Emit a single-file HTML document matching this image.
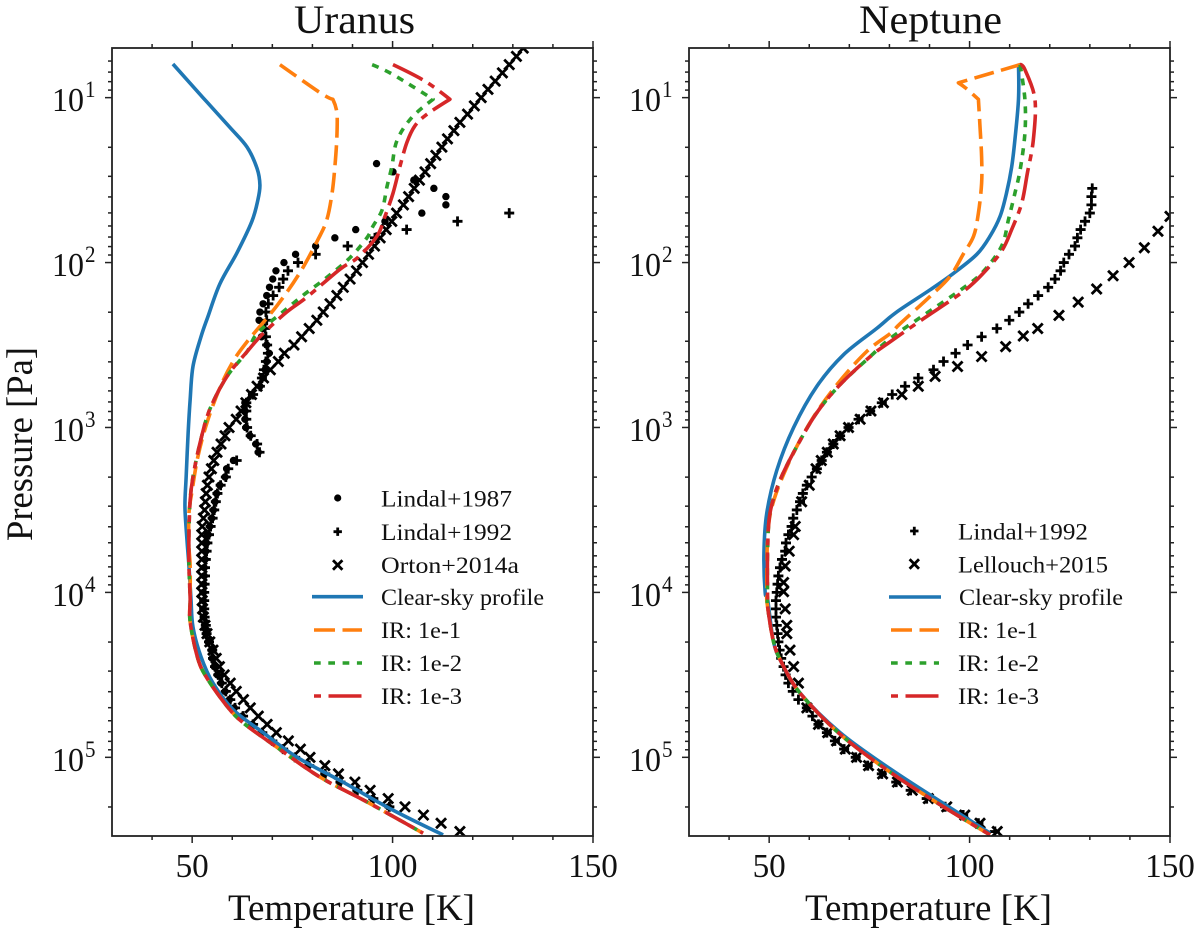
<!DOCTYPE html>
<html lang="en">
<head>
<meta charset="utf-8">
<title>Uranus and Neptune temperature profiles</title>
<style>
html,body{margin:0;padding:0;background:#fff;}
svg{display:block;filter:blur(0.35px);}
text{font-family:"Liberation Serif",serif;fill:#111;}
</style>
</head>
<body>
<svg id="figure" xmlns="http://www.w3.org/2000/svg" width="1200" height="934" viewBox="0 0 1200 934">
  <defs>
    <clipPath id="clip-uranus"><rect x="112" y="48" width="481" height="788"/></clipPath>
    <clipPath id="clip-neptune"><rect x="689" y="48" width="481" height="788"/></clipPath>
  </defs>
  <rect x="0" y="0" width="1200" height="934" fill="#fff"/>

  <text x="294" y="33" font-size="40" textLength="121" lengthAdjust="spacingAndGlyphs">Uranus</text>
  <text x="859" y="33" font-size="40" textLength="143" lengthAdjust="spacingAndGlyphs">Neptune</text>

  <g id="uranus-panel"></g>
  <g id="neptune-panel"></g>

  <text x="228" y="920" font-size="37" textLength="247" lengthAdjust="spacingAndGlyphs">Temperature [K]</text>
  <text x="805" y="920" font-size="37" textLength="247" lengthAdjust="spacingAndGlyphs">Temperature [K]</text>
  <text transform="translate(32,541) rotate(-90)" x="0" y="0" font-size="37" textLength="194" lengthAdjust="spacingAndGlyphs">Pressure [Pa]</text>

  <g>
    <circle cx="337.7" cy="498" r="3.6" fill="#000"/>
    <path d="M333.5 531.7H341.9M337.7 527.5V535.9" stroke="#000" stroke-width="2.8" fill="none"/>
    <path d="M333 560.3L342.4 569.7M342.4 560.3L333 569.7" stroke="#000" stroke-width="2.8" fill="none"/>
    <line x1="312" x2="363" y1="596.7" y2="596.7" stroke="#1f77b4" stroke-width="3.6"/>
    <line x1="314" x2="362" y1="630" y2="630" stroke="#ff7f0e" stroke-width="3.6" stroke-dasharray="21 7.5"/>
    <line x1="314" x2="362" y1="663" y2="663" stroke="#2ca02c" stroke-width="3.6" stroke-dasharray="6.7 7.6"/>
    <line x1="314" x2="362" y1="696" y2="696" stroke="#d62728" stroke-width="3.6" stroke-dasharray="7 7.5 33 7"/>
    <text x="381" y="506.5" font-size="23.5" textLength="131" lengthAdjust="spacingAndGlyphs">Lindal+1987</text>
    <text x="381" y="540" font-size="23.5" textLength="131" lengthAdjust="spacingAndGlyphs">Lindal+1992</text>
    <text x="381" y="573" font-size="23.5" textLength="138" lengthAdjust="spacingAndGlyphs">Orton+2014a</text>
    <text x="381" y="605" font-size="23.5" textLength="163" lengthAdjust="spacingAndGlyphs">Clear-sky profile</text>
    <text x="381" y="638" font-size="23.5" textLength="80" lengthAdjust="spacingAndGlyphs">IR: 1e-1</text>
    <text x="381" y="671" font-size="23.5" textLength="81" lengthAdjust="spacingAndGlyphs">IR: 1e-2</text>
    <text x="381" y="704" font-size="23.5" textLength="81" lengthAdjust="spacingAndGlyphs">IR: 1e-3</text>
  </g>

  <g>
    <path d="M910.1 531H918.5M914.3 526.8V535.2" stroke="#000" stroke-width="2.8" fill="none"/>
    <path d="M909.6 559.3L919 568.7M919 559.3L909.6 568.7" stroke="#000" stroke-width="2.8" fill="none"/>
    <line x1="889" x2="941" y1="597" y2="597" stroke="#1f77b4" stroke-width="3.6"/>
    <line x1="891" x2="939" y1="630" y2="630" stroke="#ff7f0e" stroke-width="3.6" stroke-dasharray="21 7.5"/>
    <line x1="891" x2="939" y1="663" y2="663" stroke="#2ca02c" stroke-width="3.6" stroke-dasharray="6.7 7.6"/>
    <line x1="891" x2="939" y1="696" y2="696" stroke="#d62728" stroke-width="3.6" stroke-dasharray="7 7.5 33 7"/>
    <text x="958" y="539.5" font-size="23.5" textLength="130" lengthAdjust="spacingAndGlyphs">Lindal+1992</text>
    <text x="958" y="572.5" font-size="23.5" textLength="150" lengthAdjust="spacingAndGlyphs">Lellouch+2015</text>
    <text x="959" y="605" font-size="23.5" textLength="164" lengthAdjust="spacingAndGlyphs">Clear-sky profile</text>
    <text x="958" y="638" font-size="23.5" textLength="80" lengthAdjust="spacingAndGlyphs">IR: 1e-1</text>
    <text x="958" y="671" font-size="23.5" textLength="81" lengthAdjust="spacingAndGlyphs">IR: 1e-2</text>
    <text x="958" y="704" font-size="23.5" textLength="81" lengthAdjust="spacingAndGlyphs">IR: 1e-3</text>
  </g>
</svg>

<script>
// Axis values
const xMajorTicks = [50, 100, 150];
const xMinorTicks = [40, 60, 70, 80, 90, 110, 120, 130, 140];
const yDecades = [1, 2, 3, 4, 5];
const yMinorMultipliers = [2, 3, 4, 5, 6, 7, 8, 9];
const temperatureLimits = [30, 150];
const logPressureLimits = [0.699, 5.477];

// Shared measurement pressure grid, log10(P / Pa)
const logPGrid = [0.70,0.75,0.80,0.85,0.90,0.95,1.00,1.05,1.10,1.15,
  1.20,1.25,1.30,1.35,1.40,1.45,1.50,1.55,1.60,1.65,
  1.70,1.75,1.80,1.85,1.90,1.95,2.00,2.05,2.10,2.15,
  2.20,2.25,2.30,2.35,2.40,2.45,2.50,2.55,2.60,2.65,
  2.70,2.75,2.80,2.85,2.90,2.95,3.00,3.05,3.10,3.15,
  3.20,3.25,3.30,3.35,3.40,3.45,3.50,3.55,3.60,3.65,
  3.70,3.75,3.80,3.85,3.90,3.95,4.00,4.05,4.10,4.15,
  4.20,4.25,4.30,4.35,4.40,4.45,4.50,4.55,4.60,4.65,
  4.70,4.75,4.80,4.85,4.90,4.95,5.00,5.05,5.10,5.15,
  5.20,5.25,5.30,5.35,5.40,5.45];

// Uranus observations
const uranusLindal87LogP = logPGrid.slice(14);
const uranusLindal87T = [96.0,100.1,105.3,110.3,113.3,113.3,107.3,98.1,90.8,85.6,
  80.8,75.8,72.9,70.9,70.1,69.3,68.6,67.7,66.9,66.7,
  67.6,67.3,68.6,69.2,68.6,68.2,67.6,66.9,64.8,63.2,
  63.2,63.2,63.4,64.4,65.9,66.5,60.3,58.6,58.2,56.9,
  56.1,55.7,55.3,54.9,54.4,54.0,53.6,53.4,53.2,53.0,
  53.0,52.9,52.8,52.8,52.8,52.9,53.2,53.4,54.0,54.8,
  55.0,55.5,56.3,57.2,58.2,59.3,60.5,62.5,65.0,67.3,
  69.8,72.5,75.5,79.0,83.0,86.8,91.0,95.0,99.0];
const uranusLindal92LogP = logPGrid.slice(20);
const uranusLindal92T = [129.1,116.2,103.5,95.6,88.8,80.8,76.4,73.9,72.7,71.7,
  70.2,69.0,68.4,68.6,68.2,68.4,68.7,68.9,68.4,67.9,
  67.4,66.9,65.2,63.5,63.5,63.5,63.7,64.6,66.2,66.8,
  61.1,59.0,58.4,57.1,56.3,55.9,55.5,55.1,54.6,54.2,
  53.8,53.6,53.4,53.2,53.2,53.1,53.0,53.0,53.0,53.1,
  53.4,53.6,54.2,55.0,55.2,55.7,56.5,57.4,58.4,59.5,
  60.7,62.7,65.2,67.5,70.0,72.7,75.7,79.2,83.2,87.0,
  91.2,95.2,99.2];
const uranusOrtonLogP = logPGrid.slice(0);
const uranusOrtonT = [132.6,130.9,129.1,127.4,125.6,123.8,122.1,120.4,118.7,116.8,
  115.3,113.7,112.3,110.8,109.5,108.1,106.7,105.4,104.0,102.7,
  101.0,99.8,98.4,96.9,95.5,94.0,92.5,91.0,89.4,87.7,
  86.1,84.4,82.7,81.1,79.2,77.3,75.4,73.0,71.5,69.5,
  67.8,66.2,64.8,63.4,62.2,61.0,59.2,58.2,57.2,56.2,
  55.4,54.8,54.2,53.8,53.5,53.3,53.1,52.8,52.5,52.4,
  52.4,52.4,52.4,52.4,52.4,52.4,52.4,52.5,52.6,52.8,
  53.2,53.7,54.4,55.2,56.0,56.8,58.0,59.5,61.0,62.8,
  64.5,66.5,68.7,71.0,74.0,77.0,79.4,83.1,86.5,90.6,
  94.4,98.9,103.1,107.7,112.1,116.8];

// Uranus model profiles
const uranusClearT = [45.2,52.7,59.4,63.7,66.2,66.9,66.4,64.9,61.2,56.9,53.9,52.2,50.2,49.5,49.0,48.5,48.2,48.7,49.2,49.7,50.2,52.2,55.2,60.2,67.7,76.2,87.6,100.1,112.6];
const uranusClearLogP = [0.796,1.00,1.18,1.30,1.43,1.53,1.62,1.75,1.94,2.13,2.33,2.45,2.63,2.83,3.03,3.30,3.48,3.68,3.84,4.04,4.21,4.39,4.55,4.71,4.85,5.00,5.15,5.32,5.47];
const uranusIr1T = [71.9,81.9,85.1,86.1,86.1,85.6,84.9,83.6,81.4,76.9,71.2,63.7,60.2,56.9,53.7,51.4,50.0,49.2,49.2,49.5,49.5,49.5,51.4,53.7,58.7,62.7,71.2,81.9,93.6,107.6];
const uranusIr1LogP = [0.80,0.97,1.01,1.09,1.24,1.42,1.58,1.74,1.86,2.06,2.26,2.48,2.60,2.76,2.97,3.18,3.38,3.52,3.72,3.84,4.04,4.18,4.40,4.52,4.69,4.79,4.94,5.12,5.27,5.46];
const uranusIr2T = [94.9,100.1,110.1,104.8,101.1,99.8,98.6,97.4,95.1,93.6,89.4,83.6,77.6,72.6,66.2,63.7,58.7,54.4,52.0,50.2,49.5,49.2,49.2,49.5,49.5,51.4,53.7,58.7,62.7,71.2,81.9,93.6,107.6];
const uranusIr2LogP = [0.80,0.86,1.01,1.12,1.26,1.42,1.54,1.68,1.78,1.85,1.97,2.09,2.20,2.30,2.43,2.54,2.69,2.89,3.09,3.30,3.44,3.64,3.84,4.04,4.18,4.40,4.52,4.69,4.79,4.94,5.12,5.27,5.46];
const uranusIr3T = [100.1,108.1,114.3,108.6,105.6,103.6,101.8,100.1,98.1,96.1,91.3,86.9,78.6,73.6,67.7,63.7,58.7,54.4,52.0,50.2,49.5,49.2,49.2,49.5,49.5,51.4,53.7,58.7,62.7,71.2,81.9,93.6,107.6];
const uranusIr3LogP = [0.80,0.90,1.01,1.10,1.17,1.27,1.42,1.58,1.72,1.84,1.97,2.04,2.21,2.30,2.43,2.54,2.69,2.89,3.09,3.30,3.44,3.64,3.84,4.04,4.18,4.40,4.52,4.69,4.79,4.94,5.12,5.27,5.46];

// Neptune observations
const neptuneLindal92LogP = logPGrid.slice(17);
const neptuneLindal92T = [130.6,130.4,130.4,130.0,128.8,127.7,126.9,126.3,124.8,123.5,
  122.7,121.3,119.6,117.1,114.6,112.4,109.9,106.8,103.0,99.5,
  96.5,93.5,91.0,87.2,83.9,80.7,78.1,75.2,72.3,69.8,
  67.7,66.0,64.4,63.1,61.9,60.6,59.4,58.4,57.7,56.9,
  56.0,55.6,54.8,54.2,54.0,53.2,52.7,52.3,52.1,51.9,
  51.7,51.7,51.7,51.9,52.1,52.3,52.6,53.0,53.6,54.1,
  54.8,55.9,57.3,59.4,60.8,62.3,64.4,66.4,68.7,71.6,
  74.6,78.1,81.7,85.3,89.3,93.9,98.4,102.2,106.3];
const neptuneLellouchT = [150,147,143.6,139.8,135.8,131.7,127.1,122.3,117,113.4,
  109,103,97,91.4,87.2,83.1,78.5,75.4,72.7,69.8,
  67.7,66,64.5,63,61.7,60,58.1,56.5,56.1,55,
  54,53.6,53.6,54,54.4,54.4,55.2,56.1,57.3,59.4,
  62.3,64.6,66.8,69,71.8,74.8,78.3,82,85.7,89.7,
  94.3,98.8,102.6,106.9];
const neptuneLellouchLogP = [1.72,1.81,1.91,2.0,2.08,2.16,2.24,2.32,2.40,2.445,
  2.51,2.57,2.63,2.69,2.75,2.80,2.85,2.90,2.95,3.0,
  3.05,3.10,3.15,3.2,3.25,3.35,3.45,3.6,3.65,3.75,
  3.84,3.94,3.995,4.10,4.20,4.25,4.35,4.45,4.55,4.70,
  4.80,4.85,4.90,4.95,5.0,5.05,5.10,5.15,5.20,5.25,
  5.30,5.35,5.40,5.45];

// Neptune model profiles
const neptuneClearT = [112.2,112.2,111.3,110.5,109.2,107.6,105.1,101.8,96.0,90.1,81.8,76.8,68.5,61.9,56.1,51.9,49.4,48.7,49.0,49.6,51.1,53.2,57.7,67.7,80.2,93.5,105.1];
const neptuneClearLogP = [0.80,1.01,1.257,1.42,1.58,1.72,1.84,1.95,2.065,2.166,2.30,2.40,2.56,2.75,3.0,3.26,3.52,3.76,4.0,4.04,4.30,4.43,4.61,4.85,5.07,5.28,5.46];
const neptuneIr1T = [112.6,97.2,99.1,102.2,102.6,103.0,103.0,102.2,101.0,98.4,95.1,90.1,82.7,80.2,74.3,66.9,60.2,54.4,50.7,49.6,49.4,49.6,51.1,53.2,57.7,67.7,80.2,93.5,105.1];
const neptuneIr1LogP = [0.80,0.91,0.943,1.01,1.176,1.36,1.52,1.70,1.84,1.95,2.085,2.206,2.37,2.43,2.54,2.74,2.97,3.24,3.48,3.68,4.0,4.085,4.30,4.43,4.61,4.86,5.09,5.30,5.47];
const neptuneIr2T = [112.6,113.8,113.8,112.6,111.3,109.7,108.0,103.4,98.4,88.5,80.2,75.2,67.7,61.9,56.9,52.7,50.2,49.6,49.6,49.6,51.1,53.2,57.7,67.7,80.2,93.5,105.1];
const neptuneIr2LogP = [0.80,1.01,1.216,1.44,1.58,1.74,1.90,2.055,2.155,2.32,2.46,2.57,2.74,2.91,3.115,3.32,3.52,3.76,4.02,4.085,4.30,4.43,4.61,4.86,5.09,5.30,5.47];
const neptuneIr3T = [112.6,113.8,116.3,115.9,114.4,113.0,110.5,108.0,103.4,98.4,88.5,80.2,75.2,67.7,61.9,56.9,52.7,50.2,49.6,49.6,49.6,51.1,53.2,57.7,67.7,80.2,93.5,105.1];
const neptuneIr3LogP = [0.80,0.83,1.01,1.257,1.46,1.64,1.80,1.93,2.065,2.176,2.34,2.48,2.57,2.74,2.91,3.115,3.32,3.52,3.76,4.02,4.085,4.30,4.43,4.61,4.86,5.09,5.30,5.47];

const SVG_NS = 'http://www.w3.org/2000/svg';

function makeScales(x0, x1, y0, y1) {
  return {
    x0: x0, x1: x1, y0: y0, y1: y1,
    sx: function (t) { return x0 + (t - temperatureLimits[0]) / (temperatureLimits[1] - temperatureLimits[0]) * (x1 - x0); },
    sy: function (lp) { return y0 + (lp - logPressureLimits[0]) / (logPressureLimits[1] - logPressureLimits[0]) * (y1 - y0); }
  };
}

function addTick(parent, x1, y1, x2, y2, name) {
  const el = document.createElementNS(SVG_NS, 'line');
  el.setAttribute('x1', x1);
  el.setAttribute('y1', y1);
  el.setAttribute('x2', x2);
  el.setAttribute('y2', y2);
  el.setAttribute('stroke', '#222');
  el.setAttribute('stroke-width', '1.5');
  
  
  parent.appendChild(el);
}

function addLabel(parent, x, y, size, length, anchor, str, name) {
  const el = document.createElementNS(SVG_NS, 'text');
  el.setAttribute('x', x);
  el.setAttribute('y', y);
  el.setAttribute('font-size', size);
  if (anchor === 'middle') {
    el.setAttribute('text-anchor', 'middle');
  }
  el.setAttribute('textLength', length);
  el.setAttribute('lengthAdjust', 'spacingAndGlyphs');
  el.textContent = str;
  
  
  parent.appendChild(el);
}

function drawAxes(parent, s, panel) {
  const g = document.createElementNS(SVG_NS, 'g');
  
  
  parent.appendChild(g);

  xMajorTicks.forEach(function (t) {
    addTick(g, s.sx(t), s.y1, s.sx(t), s.y1 + 7, 'x-major-tick-bottom');
    addTick(g, s.sx(t), s.y0, s.sx(t), s.y0 - 7, 'x-major-tick-top');
    addLabel(g, s.sx(t), 877, 34, String(t).length * 16.6, 'middle', String(t), 'x-tick-label');
  });
  xMinorTicks.forEach(function (t) {
    addTick(g, s.sx(t), s.y1, s.sx(t), s.y1 + 4, 'x-minor-tick-bottom');
    addTick(g, s.sx(t), s.y0, s.sx(t), s.y0 - 4, 'x-minor-tick-top');
  });
  yDecades.forEach(function (d) {
    const y = s.sy(d);
    addTick(g, s.x0, y, s.x0 - 7, y, 'y-major-tick-left');
    addTick(g, s.x1, y, s.x1 + 7, y, 'y-major-tick-right');
    addLabel(g, s.x0 - 60, y + 13.5, 34, 32, 'start', '10', 'y-tick-label-base');
    addLabel(g, s.x0 - 27, y - 0.5, 23, 10.5, 'start', String(d), 'y-tick-label-exponent');
  });
  const minorDecades = [0].concat(yDecades);
  minorDecades.forEach(function (d) {
    yMinorMultipliers.forEach(function (m) {
      const lp = d + Math.log10(m);
      if (lp > logPressureLimits[0] && lp < logPressureLimits[1]) {
        addTick(g, s.x0, s.sy(lp), s.x0 - 4, s.sy(lp), 'y-minor-tick-left');
        addTick(g, s.x1, s.sy(lp), s.x1 + 4, s.sy(lp), 'y-minor-tick-right');
      }
    });
  });
  const frame = document.createElementNS(SVG_NS, 'rect');
  frame.setAttribute('x', s.x0);
  frame.setAttribute('y', s.y0);
  frame.setAttribute('width', s.x1 - s.x0);
  frame.setAttribute('height', s.y1 - s.y0);
  frame.setAttribute('fill', 'none');
  frame.setAttribute('stroke', '#222');
  frame.setAttribute('stroke-width', '1.8');
  
  
  g.appendChild(frame);
}

function drawPoints(parent, s, ts, lps, kind, name) {
  const n = Math.min(ts.length, lps.length);
  for (let i = 0; i < n; i++) {
    const x = s.sx(ts[i]);
    const y = s.sy(lps[i]);
    let el;
    if (kind === 'dot') {
      el = document.createElementNS(SVG_NS, 'circle');
      el.setAttribute('cx', x);
      el.setAttribute('cy', y);
      el.setAttribute('r', '3.7');
      el.setAttribute('fill', '#000');
    } else {
      el = document.createElementNS(SVG_NS, 'path');
      const r = kind === 'plus' ? 5 : 5;
      const d = kind === 'plus'
        ? 'M' + (x - r) + ' ' + y + 'H' + (x + r) + 'M' + x + ' ' + (y - r) + 'V' + (y + r)
        : 'M' + (x - r) + ' ' + (y - r) + 'L' + (x + r) + ' ' + (y + r) + 'M' + (x + r) + ' ' + (y - r) + 'L' + (x - r) + ' ' + (y + r);
      el.setAttribute('d', d);
      el.setAttribute('stroke', '#000');
      el.setAttribute('stroke-width', '2.8');
      el.setAttribute('fill', 'none');
    }
    
    
    parent.appendChild(el);
  }
}

// Smooth curve through the data points, keeping sharp corners where the profile really kinks.
function smoothPath(pts) {
  const tangents = pts.map(function (p, i) {
    if (i === 0 || i === pts.length - 1) { return [0, 0]; }
    const a = pts[i - 1];
    const b = pts[i + 1];
    const a1 = Math.atan2(p[1] - a[1], p[0] - a[0]);
    const a2 = Math.atan2(b[1] - p[1], b[0] - p[0]);
    let turn = Math.abs(a1 - a2);
    if (turn > Math.PI) { turn = 2 * Math.PI - turn; }
    if (turn > 0.6) { return [0, 0]; }
    return [(b[0] - a[0]) / 6, (b[1] - a[1]) / 6];
  });
  let d = 'M' + pts[0][0].toFixed(2) + ' ' + pts[0][1].toFixed(2);
  for (let i = 0; i < pts.length - 1; i++) {
    const c1x = pts[i][0] + tangents[i][0];
    const c1y = pts[i][1] + tangents[i][1];
    const c2x = pts[i + 1][0] - tangents[i + 1][0];
    const c2y = pts[i + 1][1] - tangents[i + 1][1];
    d += 'C' + c1x.toFixed(2) + ' ' + c1y.toFixed(2) + ' ' + c2x.toFixed(2) + ' ' + c2y.toFixed(2) + ' ' + pts[i + 1][0].toFixed(2) + ' ' + pts[i + 1][1].toFixed(2);
  }
  return d;
}

function drawLine(parent, s, ts, lps, color, dash, name) {
  const n = Math.min(ts.length, lps.length);
  const pts = [];
  for (let i = 0; i < n; i++) {
    pts.push([s.sx(ts[i]), s.sy(lps[i])]);
  }
  const el = document.createElementNS(SVG_NS, 'path');
  el.setAttribute('d', smoothPath(pts));
  el.setAttribute('fill', 'none');
  el.setAttribute('stroke', color);
  el.setAttribute('stroke-width', '3.6');
  el.setAttribute('stroke-linejoin', 'round');
  if (dash) {
    el.setAttribute('stroke-dasharray', dash);
  }
  
  
  parent.appendChild(el);
}

const uranusGroup = document.getElementById('uranus-panel');
const uranusScale = makeScales(112, 593, 48, 836);
const uranusPlot = document.createElementNS(SVG_NS, 'g');
uranusPlot.setAttribute('clip-path', 'url(#clip-uranus)');


uranusGroup.appendChild(uranusPlot);
drawPoints(uranusPlot, uranusScale, uranusLindal87T, uranusLindal87LogP, 'dot', 'lindal-1987-point');
drawPoints(uranusPlot, uranusScale, uranusLindal92T, uranusLindal92LogP, 'plus', 'lindal-1992-point');
drawPoints(uranusPlot, uranusScale, uranusOrtonT, uranusOrtonLogP, 'cross', 'orton-2014a-point');
drawLine(uranusPlot, uranusScale, uranusClearT, uranusClearLogP, '#1f77b4', '', 'clear-sky-profile-line');
drawLine(uranusPlot, uranusScale, uranusIr1T, uranusIr1LogP, '#ff7f0e', '20 7.5', 'ir-1e-1-line');
drawLine(uranusPlot, uranusScale, uranusIr2T, uranusIr2LogP, '#2ca02c', '7 7', 'ir-1e-2-line');
drawLine(uranusPlot, uranusScale, uranusIr3T, uranusIr3LogP, '#d62728', '33 7 7 7', 'ir-1e-3-line');
drawAxes(uranusGroup, uranusScale, 'uranus');

const neptuneGroup = document.getElementById('neptune-panel');
const neptuneScale = makeScales(689, 1170, 48, 836);
const neptunePlot = document.createElementNS(SVG_NS, 'g');
neptunePlot.setAttribute('clip-path', 'url(#clip-neptune)');


neptuneGroup.appendChild(neptunePlot);
drawPoints(neptunePlot, neptuneScale, neptuneLindal92T, neptuneLindal92LogP, 'plus', 'lindal-1992-point');
drawPoints(neptunePlot, neptuneScale, neptuneLellouchT, neptuneLellouchLogP, 'cross', 'lellouch-2015-point');
drawLine(neptunePlot, neptuneScale, neptuneClearT, neptuneClearLogP, '#1f77b4', '', 'clear-sky-profile-line');
drawLine(neptunePlot, neptuneScale, neptuneIr1T, neptuneIr1LogP, '#ff7f0e', '20 7.5', 'ir-1e-1-line');
drawLine(neptunePlot, neptuneScale, neptuneIr2T, neptuneIr2LogP, '#2ca02c', '7 7', 'ir-1e-2-line');
drawLine(neptunePlot, neptuneScale, neptuneIr3T, neptuneIr3LogP, '#d62728', '33 7 7 7', 'ir-1e-3-line');
drawAxes(neptuneGroup, neptuneScale, 'neptune');
</script>
</body>
</html>
